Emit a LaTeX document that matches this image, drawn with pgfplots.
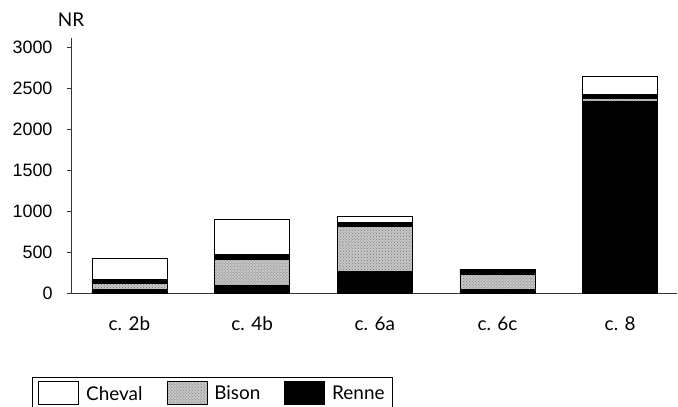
\documentclass[border=0pt]{standalone}
\usepackage{fontspec}
\setmainfont{Liberation Sans}
\newfontfamily\lab{Lato}
\usepackage{pgfplots}
\pgfplotsset{compat=1.18}
\usetikzlibrary{patterns}

\begin{document}
\begin{tikzpicture}
\begin{axis}[
    scale only axis,
    width=606bp, height=255bp,
    xmin=-0.476, xmax=4.463,
    ymin=0, ymax=3120,
    clip=false,
    axis lines=left,
    axis line style={black!80, line width=0.8bp, -},
    ybar stacked, bar width=75bp,
    xtick={0,...,4},
    xticklabels={c. 2b, c. 4b, c. 6a, c. 6c, c. 8},
    x tick label style={font=\lab\fontsize{19}{21}\selectfont, yshift=-16bp},
    x tick style={draw=none},
    ytick={0,500,...,3000},
    y tick label style={font=\fontsize{18}{20}\selectfont, xshift=-11bp},
    y tick style={black!80, line width=0.8bp},
    /pgf/number format/assume math mode=true,
    /pgf/number format/set thousands separator={},
    tick align=outside, major tick length=4bp,
    swatch/.style={legend image code/.code={\draw[line width=0.8bp, draw=black, #1] (0bp,-11bp) rectangle (40bp,12bp);}},
    legend style={
        at={(axis description cs:-0.0644,-0.3294)}, anchor=north west,
        legend columns=3, draw=black, line width=0.8bp,
        font=\lab\fontsize{19}{21}\selectfont,
        inner xsep=6bp, inner ysep=4bp,
        /tikz/every odd column/.append style={column sep=5bp},
        /tikz/every even column/.append style={column sep=22bp},
    },
]
\addlegendimage{swatch={fill=white}}
\addlegendentry{Cheval}
\addlegendimage{swatch={fill=black!22, postaction={pattern=crosshatch dots, pattern color=black!55}}}
\addlegendentry{Bison}
\addlegendimage{swatch={fill=black}}
\addlegendentry{Renne}

% Renne
\addplot[fill=black, draw=black, line width=0.8bp] coordinates {
    (0,40) (1,95) (2,265) (3,40) (4,2345)};
% Bison
\addplot[fill=black!22, draw=black, line width=0.8bp,
    postaction={pattern=crosshatch dots, pattern color=black!55}] coordinates {
    (0,75) (1,320) (2,550) (3,185) (4,40)};
% thin dark band
\addplot[fill=black, draw=black, line width=0.8bp] coordinates {
    (0,55) (1,55) (2,50) (3,60) (4,40)};
% Cheval
\addplot[fill=white, draw=black, line width=0.8bp] coordinates {
    (0,250) (1,430) (2,70) (3,0) (4,220)};

\node[font=\lab\fontsize{19}{21}\selectfont] at (rel axis cs:0,1) [yshift=18bp] {NR};
\end{axis}
\pgfresetboundingbox
\useasboundingbox (-71bp,-114bp) rectangle (607bp,293bp);
\end{tikzpicture}
\end{document}
